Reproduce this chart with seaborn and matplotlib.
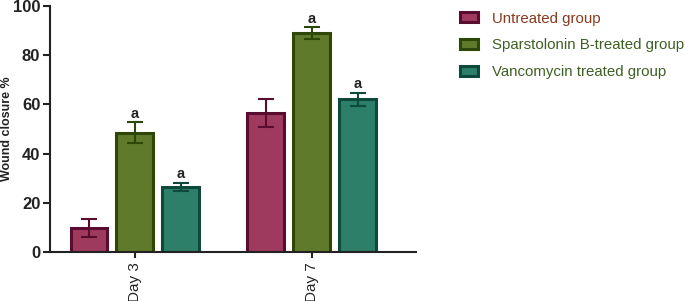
import pandas as pd
import matplotlib
matplotlib.use('Agg')
import matplotlib.pyplot as plt
import matplotlib.patches as mpatches
import seaborn as sns

# data
days = ['Day 3', 'Day 7']
groups = ['Untreated group', 'Sparstolonin B-treated group', 'Vancomycin treated group']
untreated = [9.8, 56.5]
sparstolonin = [48.5, 89.0]
vancomycin = [26.5, 62.0]
untreated_err = [3.6, 5.8]
sparstolonin_err = [4.2, 2.4]
vancomycin_err = [1.6, 2.8]
letters = [['', 'a', 'a'], ['', 'a', 'a']]

fills = ['#9e3a5e', '#5f7a2b', '#2d7f69']
edges = ['#5a0c30', '#2c4707', '#0d4a3b']
text_cols = ['#8a3a1f', '#3f6024', '#3f6024']

df = pd.DataFrame({
    'day': days * 3,
    'group': [g for g in groups for _ in days],
    'value': untreated + sparstolonin + vancomycin,
})
errs = [untreated_err, sparstolonin_err, vancomycin_err]

sns.set_style('ticks')
plt.rcParams['font.family'] = ['Liberation Sans', 'DejaVu Sans']

fig = plt.figure(figsize=(6.85, 3.01), dpi=100)
ax = fig.add_axes([50 / 685, 49 / 301, 366 / 685, 246 / 301])

sns.barplot(data=df, x='day', y='value', hue='group', hue_order=groups,
            palette=fills, saturation=1, errorbar=None, width=0.78, gap=0.2,
            linewidth=2.2, legend=False, ax=ax)

bar_conts = list(ax.containers)
for i, cont in enumerate(bar_conts):
    for j, bar in enumerate(cont):
        bar.set_edgecolor(edges[i])
        xc = bar.get_x() + bar.get_width() / 2
        h = bar.get_height()
        ax.errorbar(xc, h, yerr=errs[i][j], color=edges[i], capsize=5.5,
                    elinewidth=1.5, capthick=1.5, zorder=3)
        if letters[j][i]:
            ax.text(xc, h + errs[i][j] + 0.6, letters[j][i], ha='center',
                    va='bottom', fontsize=10.5, fontweight='bold', color='#222222')

ax.set_ylim(0, 100)
ax.set_xlim(-0.48, 1.59)
ax.set_yticks([0, 20, 40, 60, 80, 100])
ax.set_xlabel('')
ax.set_ylabel('Wound closure %', fontsize=9, fontweight='bold', color='#222222')
ax.yaxis.set_label_coords(-37 / 366, 0.5)
ax.tick_params(axis='y', labelsize=12, width=1.5, length=5, pad=2, colors='#222222')
ax.tick_params(axis='x', labelsize=11, width=1.5, length=4, colors='#222222')
for lab in ax.get_yticklabels():
    lab.set_fontweight('bold')
for lab in ax.get_xticklabels():
    lab.set_rotation(90)
for s in ['left', 'bottom']:
    ax.spines[s].set_linewidth(1.5)
    ax.spines[s].set_color('#222222')
sns.despine(ax=ax)

handles = [mpatches.Patch(facecolor=fills[k], edgecolor=edges[k], linewidth=2.2)
           for k in range(3)]
leg = fig.legend(handles, groups, loc='upper left', bbox_to_anchor=(446 / 685, 1 + 2 / 301),
                 frameon=False, fontsize=10.8, handlelength=1.2, handleheight=0.65,
                 labelspacing=0.86, handletextpad=0.95)
for t, c in zip(leg.get_texts(), text_cols):
    t.set_color(c)

fig.savefig('out.png', dpi=100)
